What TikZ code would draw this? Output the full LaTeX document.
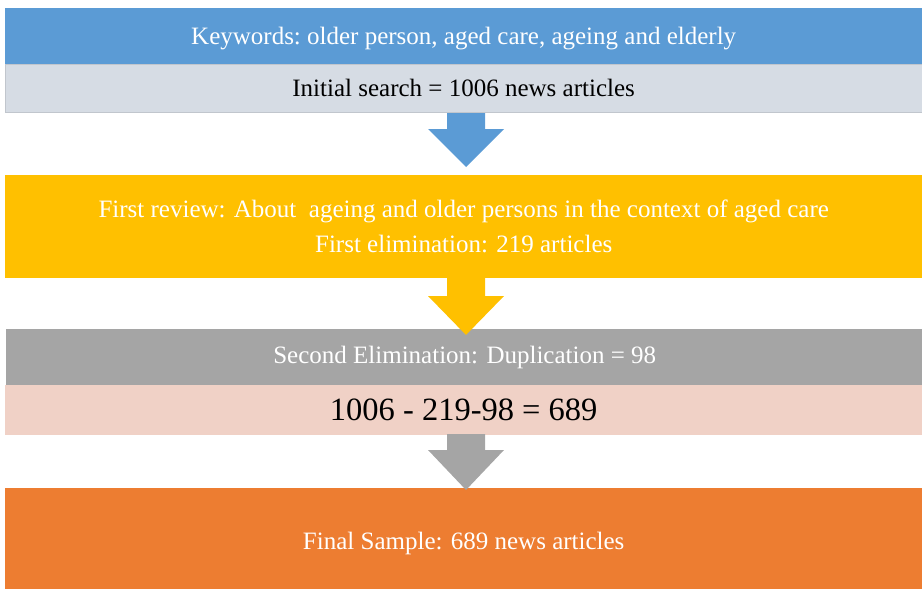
\documentclass[tikz,border=0pt]{standalone}
\usepackage{fontspec}
\setmainfont{Liberation Serif}
\usetikzlibrary{calc}
\definecolor{kwblue}{HTML}{5B9BD5}
\definecolor{srchgray}{HTML}{D6DCE4}
\definecolor{revyellow}{HTML}{FFC000}
\definecolor{elimgray}{HTML}{A5A5A5}
\definecolor{calcpink}{HTML}{F0D1C6}
\definecolor{finorange}{HTML}{ED7D31}
\tikzset{
  band/.style={anchor=north west, inner sep=0pt, minimum width=917pt,
    align=center, font=\fontsize{25}{35}\selectfont},
}
% block arrow: shaft from (#1) down #3, then a head ending at the tip (#2)
\newcommand{\blockarrow}[4]{%
  \fill[#4] ($(#1)+(-19pt,0)$) -- ($(#1)+(19pt,0)$) -- ($(#1)+(19pt,#3)$)
    -- ($(#1)+(38pt,#3)$) -- (#2) -- ($(#1)+(-38pt,#3)$) -- ($(#1)+(-19pt,#3)$) -- cycle;}
\begin{document}
\begin{tikzpicture}[x=1pt,y=-1pt]
\useasboundingbox (0,0) rectangle (922,589);
% stacked bands
\node[band, fill=kwblue, text=white, minimum height=56pt, text height=23pt, text depth=5.5pt] (kw) at (5,8)
  {Keywords:\ older person, aged care, ageing\ and\ elderly};
\node[band, fill=srchgray, draw=srchgray!90!black, line width=0.3pt, minimum height=48pt] (init) at (5,64)
  {Initial search = 1006\ news\ articles};
\node[band, fill=revyellow, text=white, minimum height=103pt] (rev) at (5,175)
  {First review: About\ \ ageing and older persons in the context of aged care\\
   First elimination: 219 articles};
\node[band, fill=elimgray, text=white, minimum height=56pt] (dup) at (6,329)
  {Second Elimination: Duplication = 98};
\node[band, fill=calcpink, minimum height=50pt, font=\fontsize{32.5}{36}\selectfont] (calc) at (5,385)
  {1006 - 219-98 = 689};
\node[band, fill=finorange, text=white, minimum height=101pt, text height=27pt, text depth=5.5pt] (final) at (5,488)
  {Final Sample: 689 news articles};
% arrow positions
\coordinate (a1s) at (466,113);
\coordinate (a1t) at (466,167);
\coordinate (a2s) at (466,277);
\coordinate (a2t) at (466,335);
\coordinate (a3s) at (466,434);
\coordinate (a3t) at (466,490);
\blockarrow{a1s}{a1t}{16}{kwblue}
\blockarrow{a2s}{a2t}{19}{revyellow}
\blockarrow{a3s}{a3t}{16}{elimgray}
\end{tikzpicture}
\end{document}
